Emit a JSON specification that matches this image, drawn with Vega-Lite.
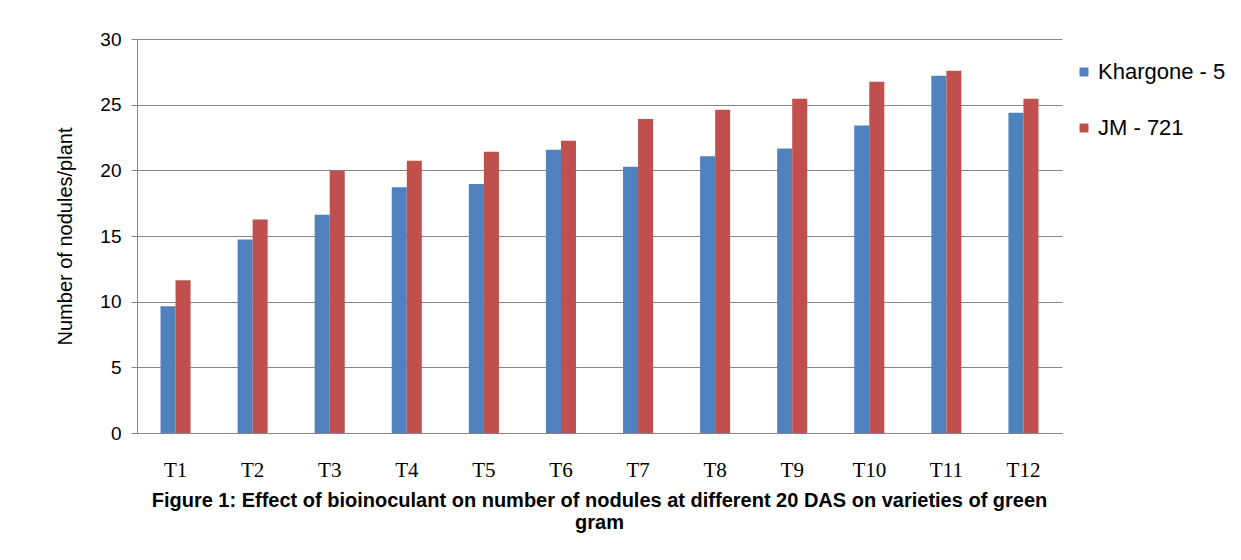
{
  "$schema": "https://vega.github.io/schema/vega-lite/v6.json",
  "autosize": "none",
  "width": 925,
  "height": 394,
  "padding": {"left": 137, "top": 39, "right": 179, "bottom": 127},
  "background": "white",
  "config": {"view": {"stroke": null}, "font": "Liberation Sans"},
  "title": {
    "text": ["Figure 1: Effect of bioinoculant on number of nodules at different 20 DAS on varieties of green", "gram"],
    "orient": "bottom",
    "anchor": "middle",
    "font": "Liberation Sans",
    "fontSize": 20,
    "fontWeight": "bold",
    "color": "#000000",
    "offset": 11,
    "lineHeight": 22
  },
  "data": {
    "values": [
      {"t": "T1", "variety": "Khargone - 5", "v": 9.65},
      {"t": "T1", "variety": "JM - 721", "v": 11.63},
      {"t": "T2", "variety": "Khargone - 5", "v": 14.73},
      {"t": "T2", "variety": "JM - 721", "v": 16.26},
      {"t": "T3", "variety": "Khargone - 5", "v": 16.61},
      {"t": "T3", "variety": "JM - 721", "v": 19.96},
      {"t": "T4", "variety": "Khargone - 5", "v": 18.72},
      {"t": "T4", "variety": "JM - 721", "v": 20.73},
      {"t": "T5", "variety": "Khargone - 5", "v": 18.95},
      {"t": "T5", "variety": "JM - 721", "v": 21.41},
      {"t": "T6", "variety": "Khargone - 5", "v": 21.56},
      {"t": "T6", "variety": "JM - 721", "v": 22.25},
      {"t": "T7", "variety": "Khargone - 5", "v": 20.27},
      {"t": "T7", "variety": "JM - 721", "v": 23.9},
      {"t": "T8", "variety": "Khargone - 5", "v": 21.08},
      {"t": "T8", "variety": "JM - 721", "v": 24.61},
      {"t": "T9", "variety": "Khargone - 5", "v": 21.67},
      {"t": "T9", "variety": "JM - 721", "v": 25.45},
      {"t": "T10", "variety": "Khargone - 5", "v": 23.42},
      {"t": "T10", "variety": "JM - 721", "v": 26.75},
      {"t": "T11", "variety": "Khargone - 5", "v": 27.2},
      {"t": "T11", "variety": "JM - 721", "v": 27.58},
      {"t": "T12", "variety": "Khargone - 5", "v": 24.38},
      {"t": "T12", "variety": "JM - 721", "v": 25.45}
    ]
  },
  "mark": {"type": "bar"},
  "encoding": {
    "x": {
      "field": "t",
      "type": "nominal",
      "sort": null,
      "scale": {"paddingInner": 0.61, "paddingOuter": 0.305},
      "axis": {
        "title": null,
        "labelAngle": 0,
        "labelFont": "Liberation Serif",
        "labelFontSize": 21,
        "labelColor": "#000000",
        "labelPadding": 26,
        "ticks": false,
        "domainColor": "#868686"
      }
    },
    "y": {
      "field": "v",
      "type": "quantitative",
      "scale": {"domain": [0, 30], "nice": false},
      "axis": {
        "values": [0, 5, 10, 15, 20, 25, 30],
        "title": "Number of nodules/plant",
        "titleFont": "Liberation Sans",
        "titleFontSize": 20,
        "titleFontWeight": "normal",
        "titleColor": "#000000",
        "titlePadding": 24,
        "labelFont": "Liberation Sans",
        "labelFontSize": 19,
        "labelColor": "#000000",
        "labelPadding": 10,
        "tickSize": 6,
        "tickColor": "#868686",
        "domainColor": "#868686",
        "gridColor": "#868686",
        "gridOpacity": 1
      }
    },
    "xOffset": {"field": "variety", "type": "nominal", "sort": ["Khargone - 5", "JM - 721"], "scale": {"paddingInner": 0, "paddingOuter": 0}},
    "color": {
      "field": "variety",
      "type": "nominal",
      "sort": ["Khargone - 5", "JM - 721"],
      "scale": {"domain": ["Khargone - 5", "JM - 721"], "range": ["#4F81BD", "#C0504D"]},
      "legend": {
        "title": null,
        "orient": "none",
        "legendX": 936,
        "legendY": 22,
        "symbolType": "square",
        "symbolSize": 80,
        "symbolStrokeWidth": 0,
        "labelFont": "Liberation Sans",
        "labelFontSize": 22,
        "labelColor": "#000000",
        "rowPadding": 34,
        "labelOffset": 3
      }
    }
  }
}
